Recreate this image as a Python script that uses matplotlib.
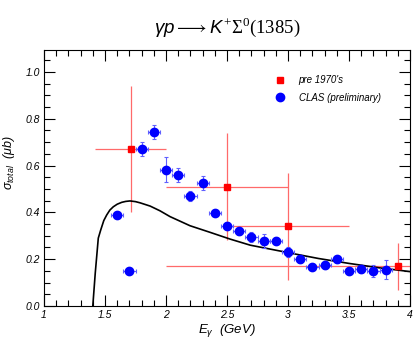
import matplotlib
matplotlib.use('Agg')
import matplotlib.pyplot as plt
from matplotlib.ticker import MultipleLocator, FormatStrFormatter

plt.rcParams['font.family'] = ['Liberation Sans', 'DejaVu Sans']
plt.rcParams['mathtext.fontset'] = 'custom'
plt.rcParams['mathtext.it'] = 'Liberation Sans:italic'
plt.rcParams['mathtext.rm'] = 'Liberation Serif'

# CLAS (preliminary)
clas_E = [1.6, 1.7, 1.8, 1.9, 2.0, 2.1, 2.2, 2.3, 2.4, 2.5, 2.6, 2.7, 2.8, 2.9,
          3.0, 3.1, 3.2, 3.3, 3.4, 3.5, 3.6, 3.7, 3.8]
clas_sig = [0.39, 0.151, 0.67, 0.742, 0.583, 0.558, 0.47, 0.526, 0.399, 0.343,
            0.319, 0.295, 0.279, 0.279, 0.232, 0.2, 0.168, 0.175, 0.2, 0.151,
            0.158, 0.151, 0.155]
clas_err = [0.012, 0.012, 0.03, 0.03, 0.055, 0.03, 0.022, 0.03, 0.012, 0.015,
            0.015, 0.02, 0.03, 0.015, 0.022, 0.015, 0.012, 0.015, 0.015, 0.012,
            0.015, 0.025, 0.04]
clas_xerr = 0.05

# pre 1970's
old_E = [1.71, 2.5, 3.0, 3.9]
old_sig = [0.67, 0.51, 0.34, 0.17]
old_xerr = [0.29, 0.5, 0.5, 1.9]
old_yerr = [0.27, 0.23, 0.23, 0.10]

# model curve
curve_E = [1.40, 1.42, 1.445, 1.465, 1.49, 1.514, 1.54, 1.568, 1.60, 1.637, 1.67,
           1.705, 1.75, 1.787, 1.87, 1.95, 2.033, 2.197, 2.36, 2.525, 2.69, 2.934,
           3.0, 3.25, 3.5, 3.75, 4.0]
curve_sig = [0.0, 0.14, 0.29, 0.325, 0.365, 0.389, 0.41, 0.424, 0.435, 0.443, 0.447,
             0.449, 0.446, 0.441, 0.427, 0.407, 0.382, 0.343, 0.315, 0.286, 0.26,
             0.235, 0.228, 0.203, 0.182, 0.163, 0.147]

fig = plt.figure(figsize=(4.15, 3.44), dpi=100)
ax = fig.add_axes([44 / 415, 38 / 344, 366 / 415, 256 / 344])

ax.errorbar(old_E, old_sig, xerr=old_xerr, yerr=old_yerr, fmt='none',
            ecolor='#ff6a6a', elinewidth=0.9, capsize=0, zorder=2)
ax.plot(curve_E, curve_sig, color='black', lw=1.2, zorder=3)
ax.plot(old_E, old_sig, 's', color='#ff0000', ms=5, mec='#ff0000', zorder=4,
        label="pre 1970's")
ax.errorbar(clas_E, clas_sig, xerr=clas_xerr, yerr=clas_err, fmt='none',
            ecolor='#6060ff', elinewidth=0.8, capsize=1.5, capthick=0.8, zorder=5)
ax.plot(clas_E, clas_sig, 'o', color='#0000ff', ms=6, mec='#0000ff', zorder=6,
        label='CLAS (preliminary)')

ax.set_xlim(1, 4)
ax.set_ylim(0, 1.094)
ax.xaxis.set_major_locator(MultipleLocator(0.5))
ax.xaxis.set_minor_locator(MultipleLocator(0.1))
ax.yaxis.set_major_locator(MultipleLocator(0.2))
ax.yaxis.set_minor_locator(MultipleLocator(0.05))
ax.xaxis.set_major_formatter(FormatStrFormatter('%g'))
ax.yaxis.set_major_formatter(FormatStrFormatter('%.1f'))
ax.tick_params(which='both', direction='in', top=True, right=True, width=0.8)
ax.tick_params(which='major', length=8, labelsize=7.5, pad=3)
ax.tick_params(which='minor', length=4)
for lab in ax.get_xticklabels() + ax.get_yticklabels():
    lab.set_fontstyle('italic')
for s in ax.spines.values():
    s.set_linewidth(0.8)

ax.set_xlabel(r'$E_{\gamma}$  (GeV)', fontsize=9.5, fontstyle='italic', labelpad=1)
ax.set_ylabel(r'$\sigma_{total}$  ($\mu$b)', fontsize=9, fontstyle='italic')
ax.yaxis.set_label_coords(-0.075, 0.56)

fig.text(0.548, 0.92, r'$\gamma p \longrightarrow K^{+}\Sigma^{0}\mathrm{(1385)}$',
         fontsize=13.5, ha='center', va='center')

leg = ax.legend(loc='upper left', bbox_to_anchor=(0.6, 0.935), frameon=False,
                handletextpad=1.2, labelspacing=0.75, handlelength=1.5,
                prop={'style': 'italic', 'size': 7})

fig.savefig('out.png', dpi=100)
